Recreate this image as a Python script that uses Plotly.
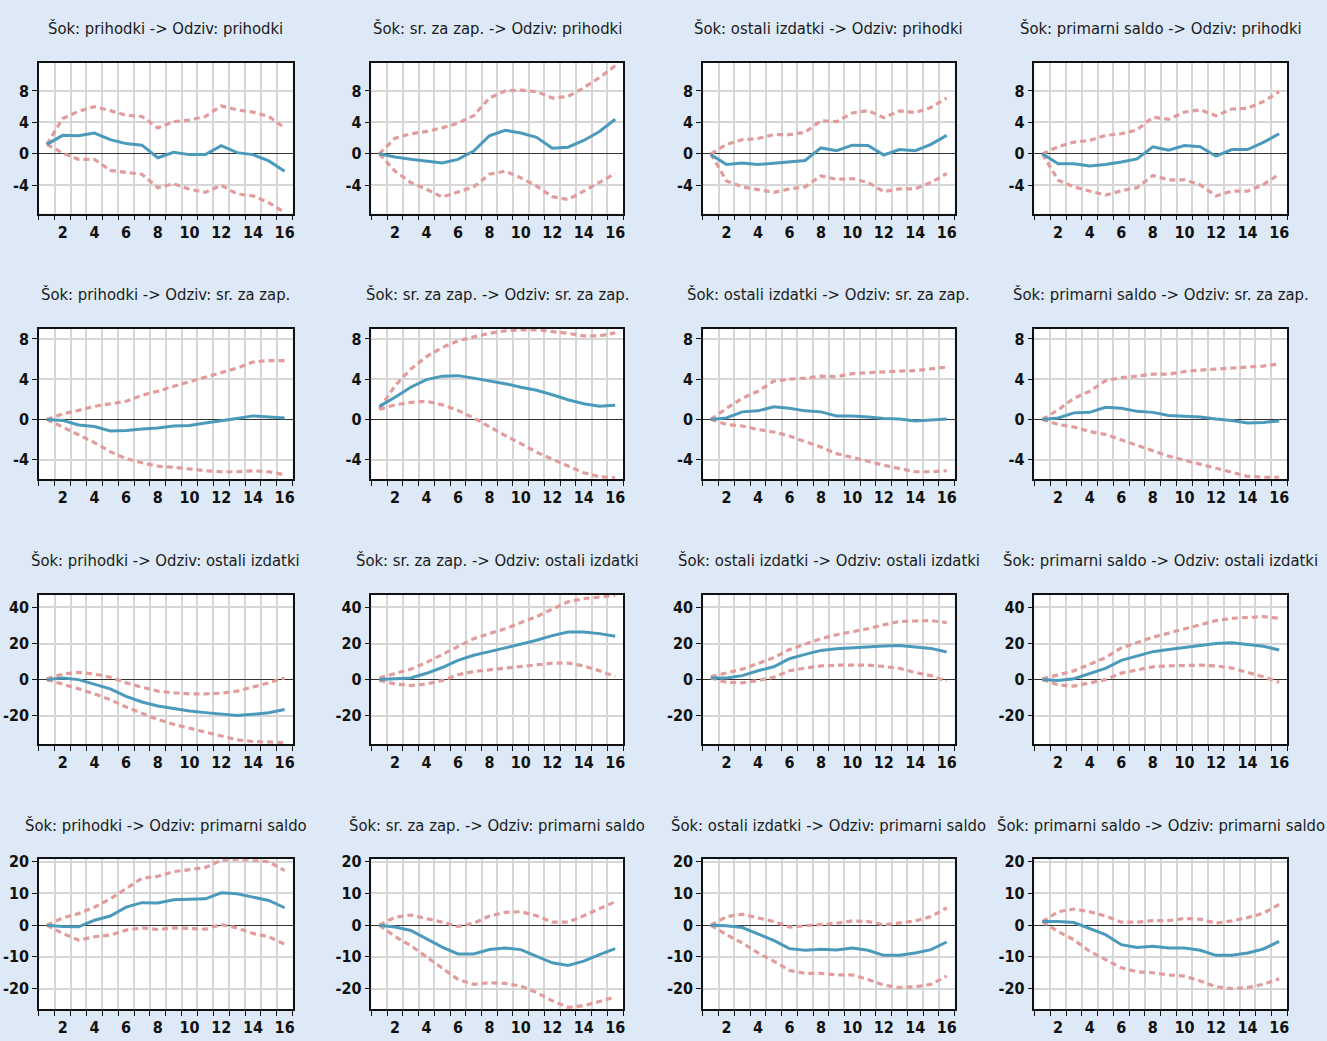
import plotly.graph_objects as go

# ---------------- data ----------------
periods = list(range(1, 17))
x_tick_vals = [2, 4, 6, 8, 10, 12, 14, 16]
x_tick_text = ["2", "4", "6", "8", "10", "12", "14", "16"]
variables = ["prihodki", "sr. za zap.", "ostali izdatki", "primarni saldo"]

# Row 1: response of "prihodki"
resp_1_1 = [1.2, 2.35, 2.3, 2.65, 1.8, 1.3, 1.1, -0.5, 0.2, -0.1, -0.1, 1.05, 0.15, -0.1, -0.9, -2.2]
up_1_1 = [1.2, 4.5, 5.4, 6.0, 5.5, 4.9, 4.75, 3.3, 4.1, 4.3, 4.75, 6.1, 5.6, 5.3, 4.75, 3.3]
lo_1_1 = [1.2, 0.1, -0.7, -0.7, -2.1, -2.4, -2.6, -4.3, -3.8, -4.5, -4.9, -4.0, -5.1, -5.35, -6.2, -7.45]

resp_1_2 = [0.0, -0.4, -0.7, -0.9, -1.15, -0.7, 0.35, 2.3, 3.0, 2.65, 2.1, 0.7, 0.85, 1.7, 2.85, 4.4]
up_1_2 = [0.0, 2.0, 2.55, 2.85, 3.3, 3.9, 4.85, 7.1, 8.0, 8.1, 7.9, 7.1, 7.3, 8.4, 9.7, 11.2]
lo_1_2 = [0.0, -2.2, -3.65, -4.5, -5.5, -4.9, -4.2, -2.6, -2.2, -3.05, -4.1, -5.45, -5.8, -4.75, -3.6, -2.5]

resp_1_3 = [-0.1, -1.35, -1.15, -1.35, -1.2, -1.05, -0.85, 0.75, 0.4, 1.1, 1.05, -0.15, 0.55, 0.4, 1.2, 2.35]
up_1_3 = [0.0, 1.2, 1.8, 1.95, 2.45, 2.45, 2.75, 4.2, 4.1, 5.2, 5.5, 4.6, 5.45, 5.25, 5.9, 7.1]
lo_1_3 = [0.0, -3.45, -4.2, -4.6, -4.9, -4.45, -4.2, -2.8, -3.25, -3.15, -3.65, -4.8, -4.45, -4.45, -3.65, -2.5]

resp_1_4 = [0.0, -1.25, -1.25, -1.55, -1.35, -1.05, -0.65, 0.9, 0.45, 1.05, 0.9, -0.3, 0.55, 0.55, 1.45, 2.55]
up_1_4 = [0.0, 0.9, 1.5, 1.7, 2.35, 2.55, 3.05, 4.65, 4.4, 5.3, 5.6, 4.85, 5.7, 5.8, 6.65, 7.9]
lo_1_4 = [0.0, -3.35, -4.2, -4.7, -5.25, -4.7, -4.3, -2.75, -3.3, -3.3, -3.95, -5.35, -4.75, -4.75, -3.9, -2.6]

# Row 2: response of "sr. za zap."
resp_2_1 = [0.0, -0.1, -0.55, -0.7, -1.15, -1.1, -0.95, -0.85, -0.65, -0.6, -0.35, -0.15, 0.1, 0.35, 0.25, 0.15]
up_2_1 = [0.0, 0.55, 0.9, 1.3, 1.55, 1.8, 2.4, 2.8, 3.3, 3.75, 4.15, 4.65, 5.1, 5.7, 5.85, 5.85]
lo_2_1 = [0.0, -0.75, -1.5, -2.3, -3.2, -3.9, -4.3, -4.65, -4.75, -4.95, -5.1, -5.2, -5.2, -5.1, -5.2, -5.5]

resp_2_2 = [1.3, 2.2, 3.2, 3.95, 4.3, 4.35, 4.1, 3.85, 3.55, 3.2, 2.9, 2.45, 1.95, 1.55, 1.3, 1.4]
up_2_2 = [1.05, 3.35, 5.0, 6.25, 7.15, 7.8, 8.2, 8.55, 8.8, 8.9, 8.9, 8.75, 8.55, 8.3, 8.3, 8.6]
lo_2_2 = [1.0, 1.45, 1.7, 1.8, 1.45, 0.9, 0.15, -0.75, -1.6, -2.4, -3.25, -3.95, -4.65, -5.3, -5.7, -5.8]

resp_2_3 = [0.0, 0.15, 0.75, 0.85, 1.25, 1.1, 0.85, 0.75, 0.35, 0.35, 0.25, 0.1, 0.05, -0.15, -0.05, 0.05]
up_2_3 = [0.0, 1.1, 2.1, 2.8, 3.8, 4.0, 4.1, 4.3, 4.25, 4.55, 4.65, 4.75, 4.8, 4.85, 5.05, 5.2]
lo_2_3 = [0.0, -0.5, -0.65, -1.0, -1.25, -1.65, -2.2, -2.75, -3.4, -3.75, -4.15, -4.55, -4.9, -5.2, -5.2, -5.1]

resp_2_4 = [0.0, 0.15, 0.65, 0.7, 1.2, 1.1, 0.8, 0.7, 0.4, 0.35, 0.25, 0.05, -0.1, -0.35, -0.3, -0.15]
up_2_4 = [0.0, 0.95, 2.1, 2.8, 3.85, 4.15, 4.3, 4.5, 4.5, 4.75, 4.9, 5.0, 5.05, 5.15, 5.3, 5.5]
lo_2_4 = [0.0, -0.5, -0.75, -1.2, -1.5, -2.05, -2.6, -3.1, -3.65, -4.05, -4.45, -4.85, -5.25, -5.65, -5.75, -5.75]

# Row 3: response of "ostali izdatki"
resp_3_1 = [0.0, 0.9, 0.0, -2.4, -5.1, -9.3, -12.4, -14.6, -16.1, -17.4, -18.3, -19.2, -19.9, -19.2, -18.4, -16.6]
up_3_1 = [0.4, 3.1, 4.0, 3.1, 1.3, -1.8, -4.2, -6.4, -7.3, -7.9, -7.9, -7.5, -6.4, -4.2, -1.8, 0.9]
lo_3_1 = [0.0, -2.4, -5.1, -7.9, -11.1, -15.2, -18.8, -22.1, -24.8, -27.0, -29.2, -31.6, -33.4, -34.3, -34.7, -34.9]

resp_3_2 = [0.0, 0.5, 0.9, 3.5, 6.7, 10.7, 13.5, 15.5, 17.6, 19.5, 21.8, 24.4, 26.4, 26.4, 25.5, 24.0]
up_3_2 = [0.9, 3.5, 5.8, 9.5, 14.0, 18.5, 22.7, 25.5, 28.2, 31.6, 34.9, 39.1, 43.1, 44.9, 45.8, 46.7]
lo_3_2 = [-0.5, -2.4, -3.3, -2.4, -0.5, 2.7, 4.5, 5.5, 6.4, 7.3, 8.2, 9.1, 9.1, 7.6, 4.9, 1.6]

resp_3_3 = [0.9, 0.9, 2.2, 4.9, 7.1, 11.6, 14.0, 16.2, 17.1, 17.6, 18.4, 18.7, 18.9, 18.0, 17.3, 15.3]
up_3_3 = [1.6, 3.5, 5.8, 8.9, 12.2, 16.7, 19.8, 22.7, 24.9, 26.4, 28.2, 30.4, 32.2, 32.5, 32.7, 31.6]
lo_3_3 = [0.9, -1.5, -1.8, -0.5, 1.3, 4.9, 6.4, 7.6, 8.0, 8.0, 8.0, 7.3, 6.2, 4.0, 2.2, -0.9]

resp_3_4 = [0.0, -0.5, 0.5, 3.5, 6.2, 10.7, 13.1, 15.5, 16.7, 17.6, 18.9, 20.0, 20.4, 19.5, 18.5, 16.4]
up_3_4 = [0.4, 2.7, 4.9, 8.5, 12.2, 17.6, 20.4, 23.5, 25.8, 28.2, 30.7, 32.7, 34.0, 34.5, 34.9, 34.0]
lo_3_4 = [0.0, -2.9, -3.6, -2.0, 0.0, 3.6, 5.3, 7.1, 7.6, 8.0, 8.0, 7.6, 6.4, 4.0, 1.6, -1.5]

# Row 4: response of "primarni saldo"
resp_4_1 = [0.0, -0.4, -0.5, 1.55, 2.9, 5.7, 7.1, 7.0, 8.0, 8.1, 8.3, 10.2, 9.9, 8.85, 7.8, 5.5]
up_4_1 = [0.0, 2.3, 3.65, 5.7, 8.3, 11.5, 14.8, 15.4, 16.9, 17.5, 18.2, 20.5, 20.8, 20.5, 20.0, 17.2]
lo_4_1 = [0.0, -2.6, -4.7, -3.65, -3.1, -1.55, -0.85, -1.35, -0.85, -1.05, -1.25, 0.2, -0.85, -2.6, -3.65, -6.0]

resp_4_2 = [0.0, -0.6, -1.65, -4.4, -6.9, -9.05, -9.05, -7.7, -7.2, -7.7, -9.8, -11.85, -12.7, -11.35, -9.25, -7.4]
up_4_2 = [0.0, 2.5, 3.2, 2.2, 0.95, -0.4, 0.6, 2.9, 4.05, 4.25, 3.0, 0.95, 0.95, 3.0, 5.3, 7.4]
lo_4_2 = [0.0, -3.55, -6.45, -10.1, -13.45, -17.1, -18.65, -18.15, -18.35, -19.2, -21.25, -23.85, -25.9, -25.4, -24.05, -22.6]

resp_4_3 = [0.0, -0.2, -0.75, -2.8, -4.8, -7.4, -7.9, -7.6, -7.8, -7.2, -7.9, -9.5, -9.5, -8.75, -7.7, -5.3]
up_4_3 = [0.0, 2.7, 3.45, 2.2, 1.15, -0.6, -0.2, 0.1, 0.6, 1.35, 1.15, 0.1, 0.6, 1.35, 2.7, 5.5]
lo_4_3 = [0.0, -3.0, -5.6, -8.75, -11.35, -14.25, -15.2, -15.2, -15.7, -15.7, -17.1, -18.95, -19.65, -19.45, -18.65, -16.05]

resp_4_4 = [1.15, 1.15, 0.85, -0.95, -3.0, -6.15, -7.0, -6.65, -7.2, -7.2, -7.9, -9.5, -9.5, -8.75, -7.5, -5.1]
up_4_4 = [1.15, 4.25, 5.1, 4.25, 2.9, 0.95, 0.95, 1.45, 1.45, 2.1, 1.9, 0.6, 1.35, 2.4, 3.75, 6.55]
lo_4_4 = [1.15, -2.0, -4.6, -8.25, -10.85, -13.45, -14.7, -15.0, -15.7, -16.05, -17.6, -19.45, -20.0, -19.65, -18.65, -16.9]

row_y_range = [[-7.6, 11.6], [-5.9, 9.0], [-35.7, 46.9], [-26.5, 20.8]]
row_y_ticks = [[-4, 0, 4, 8], [-4, 0, 4, 8], [-20, 0, 20, 40], [-20, -10, 0, 10, 20]]

panels = {
    (1, 1): (resp_1_1, up_1_1, lo_1_1), (1, 2): (resp_1_2, up_1_2, lo_1_2),
    (1, 3): (resp_1_3, up_1_3, lo_1_3), (1, 4): (resp_1_4, up_1_4, lo_1_4),
    (2, 1): (resp_2_1, up_2_1, lo_2_1), (2, 2): (resp_2_2, up_2_2, lo_2_2),
    (2, 3): (resp_2_3, up_2_3, lo_2_3), (2, 4): (resp_2_4, up_2_4, lo_2_4),
    (3, 1): (resp_3_1, up_3_1, lo_3_1), (3, 2): (resp_3_2, up_3_2, lo_3_2),
    (3, 3): (resp_3_3, up_3_3, lo_3_3), (3, 4): (resp_3_4, up_3_4, lo_3_4),
    (4, 1): (resp_4_1, up_4_1, lo_4_1), (4, 2): (resp_4_2, up_4_2, lo_4_2),
    (4, 3): (resp_4_3, up_4_3, lo_4_3), (4, 4): (resp_4_4, up_4_4, lo_4_4),
}

# ---------------- layout ----------------
W, H = 1327, 1041
col_px = [(39, 293), (372, 624), (704, 956), (1036, 1289)]
row_px = [(56, 208), (324, 475), (592, 742), (858, 1009)]
title_y_px = [22, 289, 557, 824]

BG = "#dde9f6"
BLUE = "#4b9abb"
PINK = "#e29c9c"
GRID = "#d6d6d6"
FONT = "DejaVu Sans Condensed, sans-serif"

fig = go.Figure()
annotations = []
layout_axes = {}

for (r, c), (resp, up, lo) in panels.items():
    idx = (r - 1) * 4 + c
    xa = "x" if idx == 1 else f"x{idx}"
    ya = "y" if idx == 1 else f"y{idx}"
    for series, color, dash, width in ((up, PINK, "6px,4px", 3.2), (lo, PINK, "6px,4px", 3.2),
                                       (resp, BLUE, "solid", 3)):
        fig.add_trace(go.Scatter(x=periods, y=series, mode="lines", xaxis=xa, yaxis=ya,
                                 line=dict(color=color, width=width, dash=dash),
                                 showlegend=False, hoverinfo="skip"))
    x0, x1 = col_px[c - 1]
    y0, y1 = row_px[r - 1]
    xkey = "xaxis" if idx == 1 else f"xaxis{idx}"
    ykey = "yaxis" if idx == 1 else f"yaxis{idx}"
    layout_axes[xkey] = dict(
        domain=[x0 / W, x1 / W], anchor=ya, range=[0.5, 16.5],
        tickvals=x_tick_vals, ticktext=x_tick_text, ticks="outside", ticklen=3,
        tickcolor="rgba(0,0,0,0)", showgrid=False, zeroline=False,
        showline=True, linecolor="#111111", linewidth=1.5, mirror=True,
        tickfont=dict(family=FONT, size=16, color="#111111", weight="bold"),
        minor=dict(tick0=0.5, dtick=1, ticks="outside", ticklen=5, tickcolor="#111111",
                   tickwidth=1, showgrid=True, gridcolor=GRID, gridwidth=1.5),
    )
    yt = row_y_ticks[r - 1]
    layout_axes[ykey] = dict(
        domain=[1 - y1 / H, 1 - y0 / H], anchor=xa, range=row_y_range[r - 1],
        tickvals=yt, ticktext=[str(v) for v in yt], ticks="outside", ticklen=5,
        tickcolor="#111111", showgrid=True, gridcolor=GRID, gridwidth=1.5,
        zeroline=True, zerolinecolor="#333333", zerolinewidth=1.2,
        showline=True, linecolor="#111111", linewidth=1.5, mirror=True,
        tickfont=dict(family=FONT, size=16, color="#111111", weight="bold"),
    )
    annotations.append(dict(
        text=f"Šok: {variables[c - 1]} -> Odziv: {variables[r - 1]}",
        x=(x0 + x1) / 2 / W, y=1 - title_y_px[r - 1] / H, xref="paper", yref="paper",
        xanchor="center", yanchor="middle", showarrow=False,
        font=dict(family=FONT, size=16.5, color="#1a1a1a"),
    ))

fig.update_layout(
    width=W, height=H, margin=dict(l=0, r=0, t=0, b=0),
    paper_bgcolor=BG, plot_bgcolor="white",
    annotations=annotations, showlegend=False, **layout_axes,
)

fig.write_html("out.html", config={"displayModeBar": False},
               post_script="document.body.style.margin='0';document.body.style.overflow='hidden';")
